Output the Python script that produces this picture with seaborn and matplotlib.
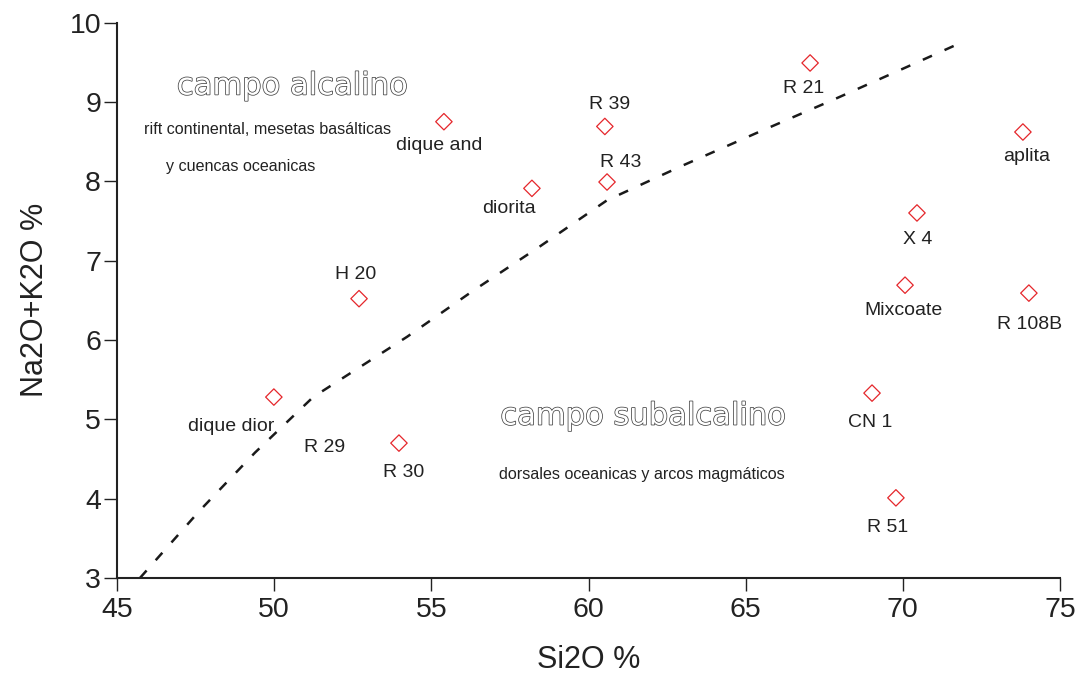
import matplotlib
matplotlib.use("Agg")
import matplotlib.pyplot as plt
import matplotlib.patheffects as pe
import seaborn as sns
import pandas as pd

# Sample names and total-alkali vs silica values
samples = ["R 21", "R 39", "dique and", "R 43", "diorita", "aplita", "X 4",
           "Mixcoate", "R 108B", "H 20", "dique dior", "CN 1", "R 30", "R 51"]
si2o = [67.05, 60.52, 55.40, 60.59, 58.20, 73.82, 70.45,
        70.07, 74.01, 52.70, 49.99, 69.02, 53.97, 69.78]
alkalis = [9.49, 8.69, 8.75, 7.99, 7.91, 8.62, 7.60,
           6.69, 6.59, 6.52, 5.28, 5.33, 4.70, 4.01]

# Alkaline / subalkaline dividing curve (nodes)
boundary_x = [45.73, 47.61, 49.39, 51.24, 54.23, 56.33, 58.46,
              60.59, 63.01, 65.36, 67.75, 70.13, 71.82]
boundary_y = [3.00, 3.84, 4.58, 5.28, 6.04, 6.62, 7.18,
              7.76, 8.20, 8.61, 9.02, 9.44, 9.74]

x_ticks = [45, 50, 55, 60, 65, 70, 75]
y_ticks = [3, 4, 5, 6, 7, 8, 9, 10]

# Label offsets from each point, in pixels (right, down)
label_dx = [-6, 5, -5, 14, -23, 4, 1, -2, 1, -3, -43, -2, 5, -8]
label_dy = [26, -22, 24, -20, 20, 24, 27, 25, 31, -24, 29, 29, 29, 30]

sns.set_theme(style="ticks")
plt.rcParams["font.family"] = ["Liberation Sans", "DejaVu Sans"]

TXT = "#222222"
RED = "#e5262b"

fig = plt.figure(figsize=(10.77, 6.82), dpi=100)
ax = fig.add_axes([117 / 1077, 1 - 578 / 682, (1060 - 117) / 1077, (578 - 22.5) / 682])

df = pd.DataFrame({"SiO2": si2o, "alk": alkalis, "name": samples})

ax.plot(boundary_x, boundary_y, color="#1a1a1a", lw=1.8, dashes=(4, 5.5),
        solid_capstyle="butt", dash_capstyle="butt", zorder=2)

sns.scatterplot(data=df, x="SiO2", y="alk", ax=ax, marker="D", s=70,
                facecolor="none", edgecolor=RED, linewidth=0.9, zorder=3)

px2pt = 72 / 100
for name, x, y, dx, dy in zip(samples, si2o, alkalis, label_dx, label_dy):
    ax.annotate(name, (x, y), xytext=(dx * px2pt, -dy * px2pt),
                textcoords="offset points", ha="center", va="center",
                fontsize=14, color=TXT)

# Sample label without a plotted point
ax.text(51.59, 4.64, "R 29", ha="center", va="center", fontsize=14, color=TXT)

# Field names
outline = [pe.withStroke(linewidth=1.1, foreground="#444444")]
ax.text(50.57, 9.20, "campo alcalino", ha="center", va="center", fontsize=22,
        color="white", family="DejaVu Sans", path_effects=outline)
ax.text(61.73, 5.04, "campo subalcalino", ha="center", va="center", fontsize=22,
        color="white", family="DejaVu Sans", path_effects=outline)
ax.text(49.80, 8.65, "rift continental, mesetas basálticas", ha="center",
        va="center", fontsize=11.6, color=TXT)
ax.text(48.94, 8.19, "y cuencas oceanicas", ha="center", va="center",
        fontsize=11.6, color=TXT)
ax.text(61.70, 4.30, "dorsales oceanicas y arcos magmáticos", ha="center",
        va="center", fontsize=11.6, color=TXT)

ax.set_xlim(45, 75)
ax.set_ylim(3, 10)
ax.set_xticks(x_ticks)
ax.set_yticks(y_ticks)
ax.set_xticklabels([str(t) for t in x_ticks])
ax.set_yticklabels([str(t) for t in y_ticks])
ax.tick_params(axis="both", direction="out", length=9.5, width=1.0,
               color="#222222", labelsize=20.5, labelcolor=TXT)
ax.tick_params(axis="x", pad=4)
ax.tick_params(axis="y", pad=2)

ax.set_xlabel("Si2O %", fontsize=22, color=TXT, labelpad=16)
ax.set_ylabel("Na2O+K2O %", fontsize=22, color=TXT, labelpad=14)

sns.despine(ax=ax)
for side in ("left", "bottom"):
    ax.spines[side].set_linewidth(1.5)
    ax.spines[side].set_color("#222222")
ax.set_facecolor("white")
fig.patch.set_facecolor("white")

fig.savefig("out.png", dpi=100, facecolor="white")
